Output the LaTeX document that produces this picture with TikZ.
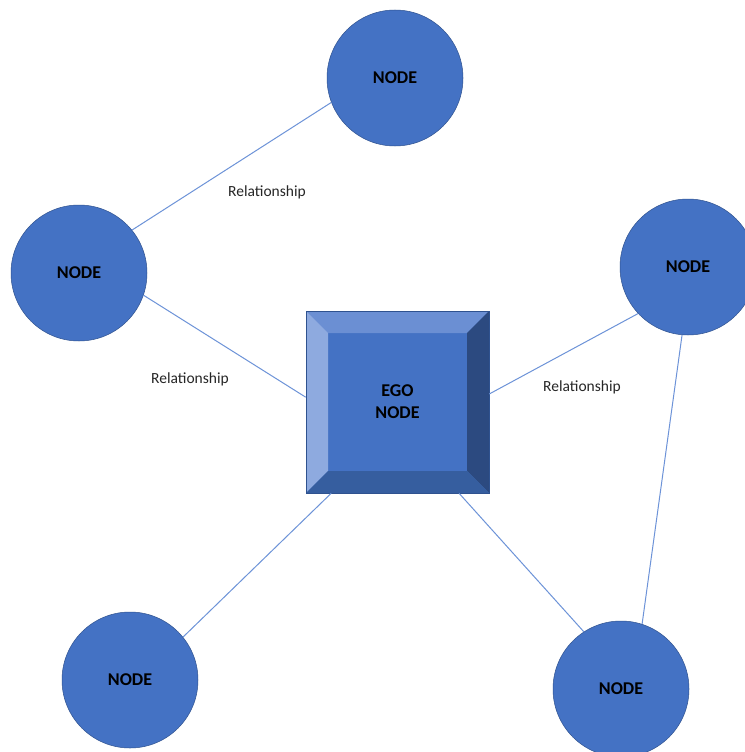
\documentclass[tikz,border=0pt]{standalone}
\usepackage{fontspec}
\setmainfont{Carlito}
\definecolor{nodeblue}{HTML}{4472C4}
\definecolor{nodeedge}{HTML}{2F528F}
\definecolor{linkblue}{HTML}{6D93D8}
\definecolor{bevtop}{HTML}{6B8FD3}
\definecolor{bevleft}{HTML}{8EAADF}
\definecolor{bevright}{HTML}{2C4A80}
\definecolor{bevbottom}{HTML}{365E9F}
\definecolor{labelgray}{HTML}{262626}
\tikzset{
  peer/.style={circle, minimum size=136pt, inner sep=0pt, fill=nodeblue,
    draw=nodeedge, line width=0.5pt,
    font=\fontsize{18}{21}\selectfont\bfseries, text=black},
  egobox/.style={rectangle, minimum width=183pt, minimum height=182pt,
    inner sep=0pt, fill=nodeblue, draw=nodeedge, line width=0.6pt,
    align=center, font=\fontsize{18}{22}\selectfont\bfseries, text=black,
    path picture={
      \coordinate (bNW) at (path picture bounding box.north west);
      \coordinate (bNE) at (path picture bounding box.north east);
      \coordinate (bSW) at (path picture bounding box.south west);
      \coordinate (bSE) at (path picture bounding box.south east);
      \coordinate (iNW) at ([shift={(22pt,-22pt)}]bNW);
      \coordinate (iNE) at ([shift={(-22pt,-22pt)}]bNE);
      \coordinate (iSW) at ([shift={(22pt,22pt)}]bSW);
      \coordinate (iSE) at ([shift={(-22pt,22pt)}]bSE);
      \fill[bevtop] (bNW) -- (bNE) -- (iNE) -- (iNW) -- cycle;
      \fill[bevleft] (bNW) -- (iNW) -- (iSW) -- (bSW) -- cycle;
      \fill[bevright] (bNE) -- (bSE) -- (iSE) -- (iNE) -- cycle;
      \fill[bevbottom] (bSW) -- (iSW) -- (iSE) -- (bSE) -- cycle;
    }},
  link/.style={draw=linkblue, line width=1pt},
  rel/.style={font=\fontsize{15.5}{18}\selectfont, text=labelgray, inner sep=0pt}
}
\begin{document}
\begin{tikzpicture}[x=1pt, y=-1pt]
  \useasboundingbox (0,0) rectangle (744,752);
  \fill[white] (0,0) rectangle (744,752);

  % peers around the central node
  \node[peer] (ntop)   at (395,78)  {NODE};
  \node[peer] (nleft)  at (79,273)  {NODE};
  \node[peer] (nright) at (688,267) {NODE};
  \node[peer] (nbl)    at (130,680) {NODE};
  \node[peer] (nbr)    at (621,689) {NODE};

  % central bevelled node
  \node[egobox] (ego) at (397.5,402) {EGO\\NODE};

  % connectors
  \draw[link] (ntop.201)   -- (nleft.39);
  \draw[link] (nleft.341)  -- (ego.177);
  \draw[link] (ego.5.5)    -- (nright.223);
  \draw[link] (ego.234)    -- (nbl.39);
  \draw[link] (ego.304.5)  -- (nbr.123);
  \draw[link] (nright.265) -- (nbr.72);

  % relationship labels
  \node[rel] (r1) at (267,192) {Relationship};
  \node[rel] (r2) at (190,379) {Relationship};
  \node[rel] (r3) at (582,387) {Relationship};
\end{tikzpicture}
\end{document}
